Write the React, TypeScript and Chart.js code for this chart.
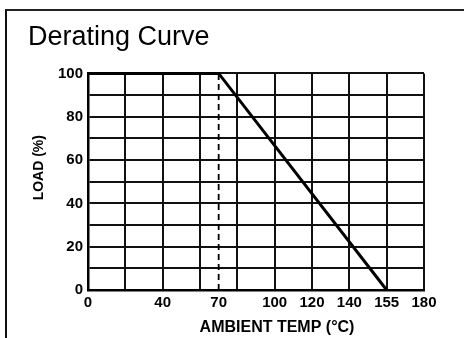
import React, { useEffect, useRef } from "react";
import { Chart, registerables } from "chart.js";

Chart.register(...registerables);

const FONT = '"Liberation Sans", Arial, Helvetica, sans-serif';

const titleText = "Derating Curve";
const xAxisTitle = "AMBIENT TEMP (°C)";
const yAxisTitle = "LOAD (%)";

// Printed x tick labels (°C) and the nominal slot on the uniform 20° grid where the print puts each one
const xTickTemps = [0, 40, 70, 100, 120, 140, 155, 180];
const xTickLabels = ["0", "40", "70", "100", "120", "140", "155", "180"];
const xTickSlots = [0, 40, 70, 100, 120, 140, 160, 180];
const xGridLines = [0, 20, 40, 60, 80, 100, 120, 140, 160, 180];

// y axis: grid every 10 %, labels every 20 %
const yGridLines = [0, 10, 20, 30, 40, 50, 60, 70, 80, 90, 100];
const yTickLabels = ["0", "", "20", "", "40", "", "60", "", "80", "", "100"];

// Derating curve
const curveTemps = [0, 70, 155];
const curveLoads = [100, 100, 0];

// Dashed knee marker
const kneeTemp = 70;
const kneeLoads = [0, 100];

function tempToSlot(t: number): number {
  for (let i = 0; i < xTickTemps.length - 1; i++) {
    const a = xTickTemps[i];
    const b = xTickTemps[i + 1];
    if (t >= a && t <= b) {
      return xTickSlots[i] + ((t - a) / (b - a)) * (xTickSlots[i + 1] - xTickSlots[i]);
    }
  }
  return t;
}

const axisTitlePlugin = {
  id: "axisTitles",
  afterDraw(chart: any) {
    const { ctx, chartArea: a } = chart;
    ctx.save();
    ctx.fillStyle = "#000";
    ctx.textAlign = "center";
    ctx.textBaseline = "middle";
    ctx.font = `bold 16px ${FONT}`;
    ctx.fillText(xAxisTitle, (a.left + a.right) / 2 + 21, a.bottom + 38);
    ctx.translate(a.left - 49, (a.top + a.bottom) / 2 - 14);
    ctx.rotate(-Math.PI / 2);
    ctx.font = `bold 14px ${FONT}`;
    ctx.fillText(yAxisTitle, 0, 0);
    ctx.restore();
  },
};

export default function App() {
  const ref = useRef<HTMLCanvasElement | null>(null);

  useEffect(() => {
    if (!ref.current) return;
    const allXTicks = Array.from(new Set([...xGridLines, ...xTickSlots])).sort((p, q) => p - q);

    const chart = new Chart(ref.current, {
      type: "line",
      data: {
        datasets: [
          {
            data: curveTemps.map((t, i) => ({ x: tempToSlot(t), y: curveLoads[i] })),
            borderColor: "#000",
            borderWidth: 3,
            pointRadius: 0,
            tension: 0,
            clip: false as any,
          },
          {
            data: kneeLoads.map((l) => ({ x: tempToSlot(kneeTemp), y: l })),
            borderColor: "#000",
            borderWidth: 1.8,
            borderDash: [6, 4],
            pointRadius: 0,
            tension: 0,
          },
        ],
      },
      options: {
        responsive: false,
        animation: false,
        layout: { padding: { left: 28, right: 40, top: 0, bottom: 0 } },
        plugins: {
          legend: { display: false },
          tooltip: { enabled: false },
          title: {
            display: true,
            text: titleText,
            align: "start",
            color: "#000",
            font: { family: FONT, size: 27, weight: "normal" },
            padding: { top: 21, bottom: 20 },
          },
        },
        scales: {
          x: {
            type: "linear",
            min: 0,
            max: 180,
            afterBuildTicks: (scale: any) => {
              scale.ticks = allXTicks.map((v) => ({ value: v }));
            },
            afterFit: (scale: any) => {
              scale.height = 48;
            },
            ticks: {
              autoSkip: false,
              maxRotation: 0,
              padding: 4,
              color: "#000",
              font: { family: FONT, size: 15, weight: "bold" },
              callback: (value: any) => {
                const idx = xTickSlots.indexOf(Number(value));
                return idx >= 0 ? xTickLabels[idx] : "";
              },
            },
            grid: {
              drawTicks: false,
              lineWidth: 2,
              color: (ctx: any) =>
                ctx.tick && xGridLines.indexOf(ctx.tick.value) < 0 ? "rgba(0,0,0,0)" : "#111",
            },
            border: { display: true, width: 2.5, color: "#000" },
          },
          y: {
            type: "linear",
            min: 0,
            max: 100,
            afterBuildTicks: (scale: any) => {
              scale.ticks = yGridLines.map((v) => ({ value: v }));
            },
            afterFit: (scale: any) => {
              scale.width = 60;
            },
            ticks: {
              autoSkip: false,
              padding: 5,
              color: "#000",
              font: { family: FONT, size: 15, weight: "bold" },
              callback: (value: any) => {
                const idx = yGridLines.indexOf(Number(value));
                return idx >= 0 ? yTickLabels[idx] : "";
              },
            },
            grid: { drawTicks: false, lineWidth: 2, color: "#111" },
            border: { display: true, width: 2.5, color: "#000" },
          },
        },
      },
      plugins: [axisTitlePlugin],
    } as any);

    return () => chart.destroy();
  }, []);

  return (
    <div style={{ position: "absolute", left: 0, top: 0, width: 464, height: 338, background: "#fff", overflow: "hidden" }}>
      <canvas ref={ref} width={464} height={338} style={{ position: "absolute", left: 0, top: 0, width: 464, height: 338 }} />
      <div
        style={{
          position: "absolute",
          left: 5,
          top: 9,
          width: 470,
          height: 340,
          borderTop: "2px solid #222",
          borderLeft: "2px solid #111",
          pointerEvents: "none",
        }}
      />
    </div>
  );
}
